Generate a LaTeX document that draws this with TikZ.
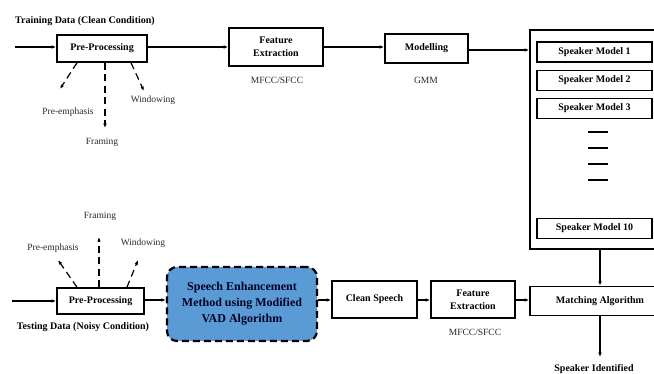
\documentclass[tikz,border=0pt]{standalone}
\usepackage{fontspec}
\setmainfont{Liberation Serif}
\usetikzlibrary{arrows.meta}
\definecolor{enhblue}{RGB}{91,155,213}
\definecolor{labelgray}{RGB}{40,40,40}
\begin{document}
\begin{tikzpicture}[x=1pt,y=-1pt,
  blockbox/.style={draw, line width=1.6pt, font=\bfseries\fontsize{10}{12}\selectfont,
    align=center, inner sep=0pt},
  modelbox/.style={blockbox, minimum width=115, minimum height=20},
  note/.style={font=\fontsize{9.5}{11}\selectfont, text=labelgray, inner sep=0pt},
  heading/.style={font=\bfseries\fontsize{10}{12}\selectfont, inner sep=0pt},
  flow/.style={line width=1.1pt, -{Latex[length=4.5pt,width=3.5pt]}},
  branch/.style={line width=1.2pt, dash pattern=on 7pt off 4.5pt, -{Latex[length=4.5pt,width=3.5pt]}}
]
\clip (0,0) rectangle (654,374);

% ---------- training branch ----------
\node[heading] (train) at (85,21) {Training Data (Clean Condition)};
\coordinate (tin) at (15,47);
\node[blockbox, minimum width=90, minimum height=27] (pre1) at (102,48.5) {Pre-Processing};
\node[blockbox, minimum width=94, minimum height=38] (fe1) at (276,47) {Feature\\[1pt]Extraction};
\node[blockbox, minimum width=83, minimum height=29] (mod) at (426.5,48.5) {Modelling};
\node[note] (mfcc1) at (277,80) {MFCC/SFCC};
\node[note] (gmm) at (426,80) {GMM};

% speaker model store
\node[draw, line width=1.6pt, minimum width=140, minimum height=219, inner sep=0pt] (models) at (600,139.5) {};
\node[modelbox] (sm1) at (594.5,52) {Speaker Model 1};
\node[modelbox] (sm2) at (594.5,80.5) {Speaker Model 2};
\node[modelbox] (sm3) at (594.5,108.5) {Speaker Model 3};
\node[modelbox] (sm10) at (594.5,228.5) {Speaker Model 10};
\foreach \yy in {132,148,164,180}
  \draw[line width=1.6pt] (588,\yy) -- (608,\yy);

\draw[flow] (tin) -- (pre1.west |- tin);
\draw[flow] (pre1.east |- fe1) -- (fe1.west);
\draw[flow] (fe1.east) -- (mod.west |- fe1.east);
\draw[flow] (mod.east |- 0,50) -- (models.west |- 0,50);

% pre-processing steps (training)
\node[note] (pe1) at (68,112) {Pre-emphasis};
\node[note] (fr1) at (102,142) {Framing};
\node[note] (wi1) at (153,100) {Windowing};
\coordinate (pe1e) at (60,89);
\coordinate (fr1e) at (105,128);
\coordinate (wi1e) at (144,91);
\draw[branch] (pre1.south -| 77,0) -- (pe1e);
\draw[branch] (pre1.south -| fr1e) -- (fr1e);
\draw[branch] (pre1.south -| 131,0) -- (wi1e);

% ---------- testing branch ----------
\coordinate (sin) at (12,301);
\node[blockbox, minimum width=87, minimum height=26] (pre2) at (100.5,301) {Pre-Processing};
\node[heading] (test) at (83,327) {Testing Data (Noisy Condition)};
\node[draw, line width=2.2pt, dash pattern=on 7pt off 4pt, rounded corners=10pt,
      fill=enhblue, minimum width=150, minimum height=74, align=center, inner sep=0pt,
      font=\bfseries\fontsize{12}{16}\selectfont, text=black!85!blue] (enh) at (242,304)
      {Speech Enhancement\\Method using Modified\\VAD Algorithm};
\node[blockbox, minimum width=85, minimum height=37] (cs) at (374.5,299.5) {Clean Speech};
\node[blockbox, minimum width=84, minimum height=37] (fe2) at (473,299.5) {Feature\\[1pt]Extraction};
\node[blockbox, minimum width=140, minimum height=29] (match) at (600,301) {Matching Algorithm};
\node[note] (mfcc2) at (475,332) {MFCC/SFCC};
\node[heading] (out) at (594,369) {Speaker Identified};

\draw[flow] (sin) -- (pre2.west |- sin);
\draw[flow] (pre2.east |- 0,300) -- (enh.west |- 0,300);
\draw[flow] (enh.east |- 0,300) -- (cs.west |- 0,300);
\draw[flow] (cs.east |- 0,300) -- (fe2.west |- 0,300);
\draw[flow] (fe2.east |- 0,300) -- (match.west |- 0,300);
\draw[flow] (models.south) -- (match.north);
\draw[flow] (match.south) -- (match.south |- 0,357);

% pre-processing steps (testing)
\node[note] (pe2) at (53,248) {Pre-emphasis};
\node[note] (fr2) at (100,216) {Framing};
\node[note] (wi2) at (143,243) {Windowing};
\coordinate (pe2e) at (58,260);
\coordinate (fr2e) at (99,237);
\coordinate (wi2e) at (138,260);
\draw[branch] (pre2.north -| 77,0) -- (pe2e);
\draw[branch] (pre2.north -| fr2e) -- (fr2e);
\draw[branch] (pre2.north -| 127,0) -- (wi2e);
\end{tikzpicture}
\end{document}
